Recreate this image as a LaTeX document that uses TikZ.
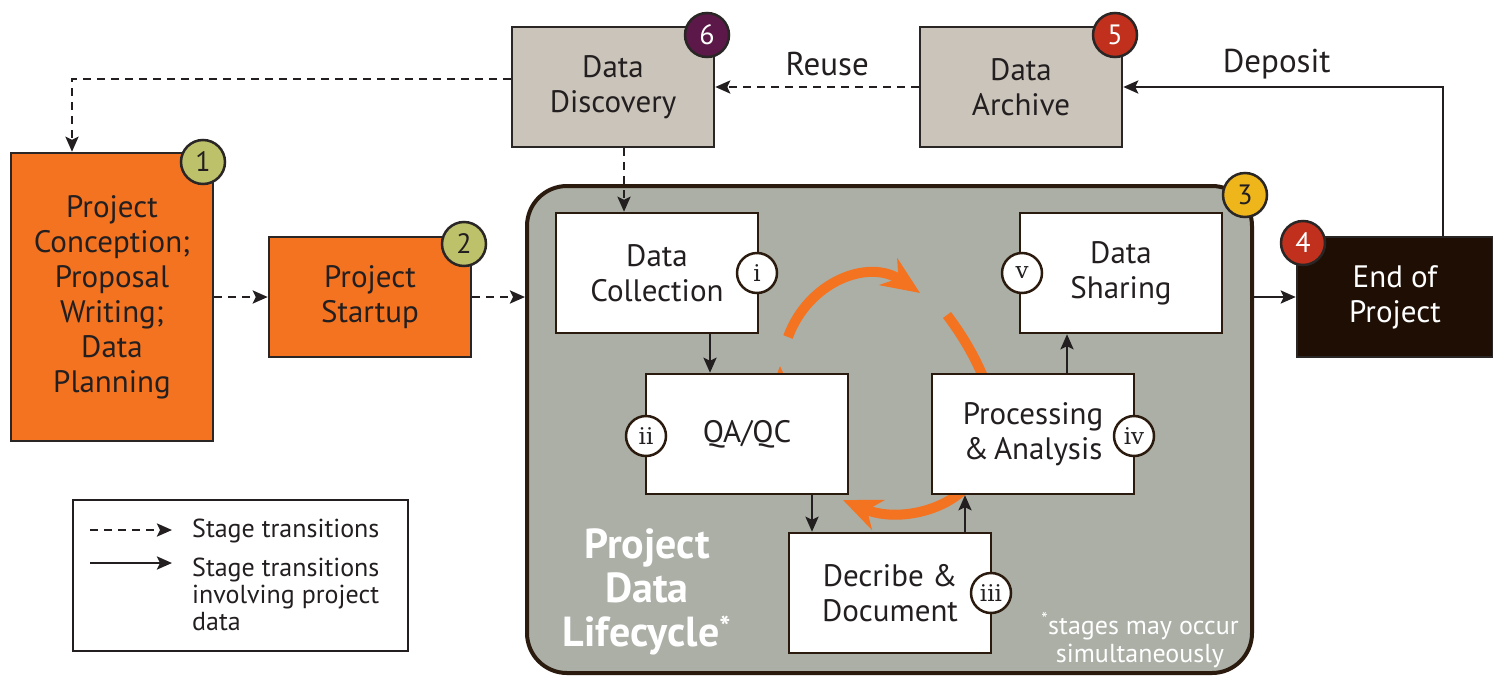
\documentclass[tikz,border=0pt]{standalone}
\usepackage{fontspec}
\setmainfont{PT Sans}
\newfontfamily\romfont{DejaVu Serif}
\usetikzlibrary{arrows.meta}
\definecolor{orng}{HTML}{F37321}
\definecolor{beige}{HTML}{CAC4BA}
\definecolor{lcgray}{HTML}{ABAFA6}
\definecolor{bdr}{HTML}{2A2626}
\definecolor{lcbdr}{HTML}{2B1A0E}
\definecolor{eopfill}{HTML}{1E0E04}
\definecolor{bgreen}{HTML}{BDC16A}
\definecolor{byellow}{HTML}{EFB61B}
\definecolor{bred}{HTML}{C1301C}
\definecolor{bpurple}{HTML}{5C1848}
\definecolor{txt}{HTML}{231F20}
\newcommand\lblfont{\fontsize{31}{35}\selectfont}
\newcommand\edgefont{\fontsize{33}{35}\selectfont}
\newcommand\legfont{\fontsize{26}{27}\selectfont}
\begin{document}
\begin{tikzpicture}[x=1pt,y=-1pt,
  stage/.style={draw=bdr,line width=2.5pt,minimum width=202pt,minimum height=120pt,align=center,inner sep=0pt,font=\lblfont,text=txt},
  inner/.style={stage,fill=white,draw=lcbdr},
  badge/.style={circle,draw=bdr,line width=2.5pt,minimum size=44pt,inner sep=0pt,font=\fontsize{28}{28}\selectfont},
  rbadge/.style={circle,draw=lcbdr,line width=2.5pt,fill=white,minimum size=40pt,inner sep=0pt,font=\romfont\fontsize{23}{23}\selectfont,text=txt},
  tip/.style={-{Stealth[length=15pt,width=13pt,inset=3pt]}},
  trans/.style={tip,draw=txt,line width=2.5pt,dash pattern=on 8pt off 6pt},
  dflow/.style={tip,draw=txt,line width=2.5pt},
  cyc/.style={draw=orng,line width=10pt},
  cyctip/.style={cyc,-{Stealth[length=38pt,width=32pt,inset=12pt]}}
]
\useasboundingbox (0,0) rectangle (1493,675);
\fill[white] (0,0) rectangle (1493,675);

% lifecycle container
\node[draw=lcbdr, fill=lcgray, line width=4pt, rounded corners=40pt, minimum width=725pt, minimum height=487pt] (lc) at (889.5,429.5) {};

% orange cycle
\draw[cyctip] (788,337) .. controls (808,282) and (868,258) .. (920,293);
\draw[cyc] (947,315) .. controls (962,335) and (978,360) .. (990,395);
\draw[cyctip] (968,485) .. controls (945,512) and (895,522) .. (843,500);
\draw[cyctip] (782,430) -- (780,366);

% outer stages
\node[stage, fill=beige] (dd) at (613,87) {Data\\Discovery};
\node[stage, fill=beige] (da) at (1021,87) {Data\\Archive};
\node[stage, fill=orng, minimum height=288pt] (p1) at (112,297) {Project\\Conception;\\Proposal\\Writing;\\Data\\Planning};
\node[stage, fill=orng] (p2) at (370,297) {Project\\Startup};
\node[stage, fill=eopfill, text=white, minimum width=196pt] (eop) at (1395,297) {End of\\Project};

% inner stages
\node[inner] (dc) at (657,273) {Data\\Collection};
\node[inner] (ds) at (1121,273) {Data\\Sharing};
\node[inner] (qa) at (747,434) {QA/QC};
\node[inner] (pa) at (1033,434) {Processing\\\&\,Analysis};
\node[inner] (db) at (890,593) {Decribe \&\\Document};

% badges
\node[badge, fill=bpurple, text=white] (b6) at (707,35) {6};
\node[badge, fill=bred, text=white] (b5) at (1115,35) {5};
\node[badge, fill=bgreen, text=txt] (b1) at (203,162) {1};
\node[badge, fill=bgreen, text=txt] (b2) at (464,244) {2};
\node[badge, fill=byellow, text=txt] (b3) at (1245,195) {3};
\node[badge, fill=bred, text=white] (b4) at (1303,243) {4};

\node[rbadge] (ri) at (757,273) {i};
\node[rbadge] (rv) at (1022,273) {v};
\node[rbadge] (rii) at (646,436) {ii};
\node[rbadge] (riv) at (1134,436) {iv};
\node[rbadge] (riii) at (991,593) {iii};

% transitions
\draw[trans] (da.west) -- (dd.east) node[pos=0.45, yshift=23pt, font=\edgefont, text=txt] (reuse) {Reuse};
\draw[dflow] ([xshift=48pt]eop.north) |- (da.east) node[pos=0.76, yshift=23pt, font=\edgefont, text=txt] (deposit) {Deposit};
\draw[trans] ([yshift=8pt]dd.west) -| ([xshift=-40pt]p1.north);
\draw[trans] (p1.east) -- (p2.west);
\draw[trans] (p2.east) -- (p2.east -| lc.west);
\draw[trans] ([xshift=11pt]dd.south) -- ([xshift=11pt]dd.south |- dc.north);
\draw[dflow] (eop.west -| lc.east) -- (eop.west);

\draw[dflow] ([xshift=53pt]dc.south) -- ([xshift=53pt]dc.south |- qa.north);
\draw[dflow] ([xshift=65pt]qa.south) -- ([xshift=65pt]qa.south |- db.north);
\draw[dflow] ([xshift=75pt]db.north) -- ([xshift=75pt]db.north |- pa.south);
\draw[dflow] ([xshift=34pt]pa.north) -- ([xshift=34pt]pa.north |- ds.south);

% titles
\node[font=\bfseries\fontsize{42}{44}\selectfont, text=white, align=center] (title) at (647,592) {Project\\Data\\Lifecycle\textsuperscript{*}};
\node[font=\fontsize{26}{28}\selectfont, text=white, align=center] (note) at (1140,640) {\textsuperscript{*}stages may occur\\simultaneously};

% legend
\node[draw=txt, line width=2pt, minimum width=335pt, minimum height=151pt] (leg) at (240.5,575.5) {};
\coordinate (l1a) at (90,530);
\coordinate (l1b) at (172,530);
\coordinate (l2a) at (90,563);
\coordinate (l2b) at (172,563);
\draw[trans] (l1a) -- (l1b);
\draw[dflow] (l2a) -- (l2b);
\node[anchor=west, font=\legfont, text=txt, inner sep=0pt] (lt1) at (192,531) {Stage transitions};
\node[anchor=west, align=left, font=\legfont, text=txt, inner sep=0pt] (lt2) at (192,594) {Stage transitions\\involving project\\data};
\end{tikzpicture}
\end{document}
